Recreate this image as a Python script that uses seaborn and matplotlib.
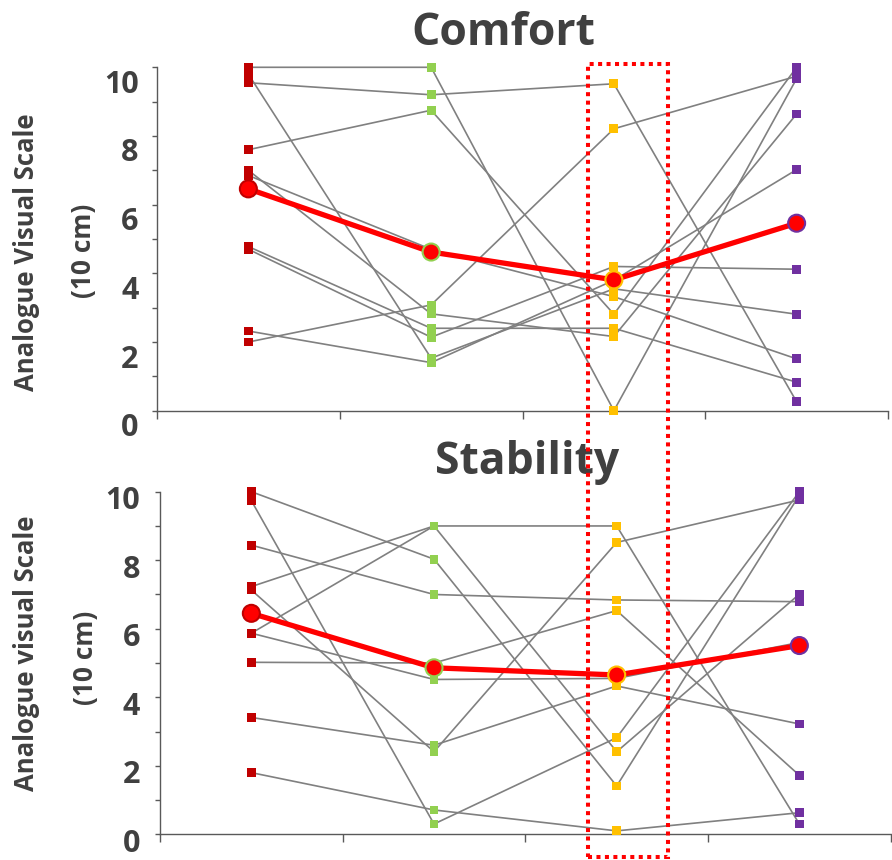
import matplotlib
matplotlib.use("Agg")
import matplotlib.pyplot as plt
import seaborn as sns
import pandas as pd
from matplotlib.transforms import ScaledTranslation
from matplotlib.patches import Rectangle

# ---------------- data ----------------
conditions = ["Condition 1", "Condition 2", "Condition 3", "Condition 4"]
cond_colors = ["#C00000", "#92D050", "#FFC000", "#7030A0"]
subjects = ["S1", "S2", "S3", "S4", "S5", "S6", "S7", "S8", "S9", "S10"]

comfort_c1 = [10.0, 9.8, 9.55, 7.6, 7.0, 6.85, 4.78, 4.7, 2.32, 2.0]
comfort_c2 = [10.0, 1.53, 9.2, 8.75, 2.82, 4.7, 2.4, 2.14, 1.4, 3.08]
comfort_c3 = [0.0, 3.55, 9.52, 2.81, 2.16, 3.32, 2.4, 4.2, 3.8, 8.21]
comfort_c4 = [9.67, 2.81, 0.26, 10.0, 8.64, 1.51, 0.83, 4.12, 7.02, 9.74]
comfort_mean = [6.46, 4.62, 3.81, 5.46]

stability_c1 = [10.0, 9.74, 8.44, 7.23, 7.13, 5.87, 5.87, 5.02, 3.41, 1.8]
stability_c2 = [8.03, 0.30, 7.0, 9.0, 2.41, 9.0, 4.52, 5.0, 2.6, 0.71]
stability_c3 = [1.41, 2.82, 6.84, 9.0, 8.52, 2.41, 4.55, 6.53, 4.33, 0.1]
stability_c4 = [9.9, 10.0, 6.79, 0.30, 9.76, 7.01, 5.6, 1.72, 3.22, 0.63]
stability_mean = [6.45, 4.86, 4.65, 5.51]

panel_titles = ["Comfort", "Stability"]
ylabels_1 = ["Analogue Visual Scale", "Analogue visual Scale"]
ylabel_2 = "(10 cm)"
y_ticks = [0, 2, 4, 6, 8, 10]


def long_frame(cols):
    rows = []
    for ci, vals in enumerate(cols):
        for s, v in zip(subjects, vals):
            rows.append({"subject": s, "condition": conditions[ci],
                         "pos": ci + 0.5, "value": v})
    return pd.DataFrame(rows)


comfort_df = long_frame([comfort_c1, comfort_c2, comfort_c3, comfort_c4])
stability_df = long_frame([stability_c1, stability_c2, stability_c3, stability_c4])
comfort_mean_df = pd.DataFrame({"condition": conditions,
                                "pos": [i + 0.5 for i in range(4)],
                                "value": comfort_mean})
stability_mean_df = pd.DataFrame({"condition": conditions,
                                  "pos": [i + 0.5 for i in range(4)],
                                  "value": stability_mean})

# ---------------- style ----------------
sns.set_style("ticks")
plt.rcParams["font.family"] = ["Open Sans", "DejaVu Sans"]
TXT = "#404040"
AX = "#595959"

W, H = 892, 860
fig = plt.figure(figsize=(W / 100, H / 100), dpi=100)


def fx(px):
    return px / W


def fy(py):
    return 1 - py / H


ax_top = fig.add_axes([fx(157), fy(410.7), fx(888 - 157), (410.7 - 67.3) / H])
ax_bot = fig.add_axes([fx(160), fy(834.3), fx(890.7 - 160), (834.3 - 491.7) / H])

panels = [
    (ax_top, comfort_df, comfort_mean_df, 14, 9.5),
    (ax_bot, stability_df, stability_mean_df, 6, 10.5),
]

for ax, df, mdf, yoff, pad in panels:
    sns.lineplot(data=df, x="pos", y="value", units="subject", estimator=None,
                 color="#808080", linewidth=1.2, ax=ax, legend=False, sort=False,
                 zorder=2, clip_on=False)
    sns.scatterplot(data=df, x="pos", y="value", hue="condition",
                    palette=cond_colors, marker="s", s=40, linewidth=0,
                    ax=ax, legend=False, zorder=3, clip_on=False)
    sns.lineplot(data=mdf, x="pos", y="value", color="#FF0000", linewidth=3.8,
                 ax=ax, legend=False, sort=False, zorder=4, clip_on=False)
    sns.scatterplot(data=mdf, x="pos", y="value", color="#FF0000",
                    edgecolor=cond_colors, linewidth=1.5, s=150, marker="o",
                    ax=ax, legend=False, zorder=5, clip_on=False)

    ax.set_xlim(0, 4)
    ax.set_ylim(0, 10)
    ax.set_xticks([0, 1, 2, 3, 4])
    ax.set_xticklabels([])
    ax.set_yticks(y_ticks)
    ax.set_yticks([1, 3, 5, 7, 9], minor=True)
    ax.set_xlabel("")
    ax.set_ylabel("")
    for sp in ["top", "right"]:
        ax.spines[sp].set_visible(False)
    for sp in ["left", "bottom"]:
        ax.spines[sp].set_color(AX)
        ax.spines[sp].set_linewidth(1.0)
    ax.tick_params(axis="y", which="both", direction="out", length=3.8,
                   width=1.0, color=AX, pad=pad)
    ax.tick_params(axis="x", which="major", direction="out", length=5.5,
                   width=1.0, color=AX)
    ax.set_yticklabels([str(t) for t in y_ticks], fontsize=22,
                       fontweight="bold", color=TXT)
    for lab in ax.get_yticklabels():
        lab.set_transform(lab.get_transform() +
                          ScaledTranslation(0, -yoff / 100, fig.dpi_scale_trans))

# titles
fig.text(fx(503), fy(45), panel_titles[0], ha="center", va="baseline",
         fontsize=32, fontweight="bold", color=TXT)
fig.text(fx(527), fy(474), panel_titles[1], ha="center", va="baseline",
         fontsize=32, fontweight="bold", color=TXT)

# y labels (two lines, widely spaced)
fig.text(fx(27), fy(252), ylabels_1[0], rotation=90, ha="center", va="center",
         fontsize=18.5, fontweight="bold", color=TXT)
fig.text(fx(84), fy(251), ylabel_2, rotation=90, ha="center", va="center",
         fontsize=19, fontweight="bold", color=TXT)
fig.text(fx(27), fy(653), ylabels_1[1], rotation=90, ha="center", va="center",
         fontsize=18.5, fontweight="bold", color=TXT)
fig.text(fx(85), fy(658), ylabel_2, rotation=90, ha="center", va="center",
         fontsize=19, fontweight="bold", color=TXT)

# dotted highlight box around the third condition (spans both panels)
rect = Rectangle((fx(587.7), fy(857)), fx(668 - 587.7), (857 - 64) / H,
                 transform=fig.transFigure, fill=False, edgecolor="#FF0000",
                 linewidth=2.9, linestyle=(0, (1, 1.1)), zorder=10)
fig.add_artist(rect)

fig.savefig("out.png", dpi=100)
